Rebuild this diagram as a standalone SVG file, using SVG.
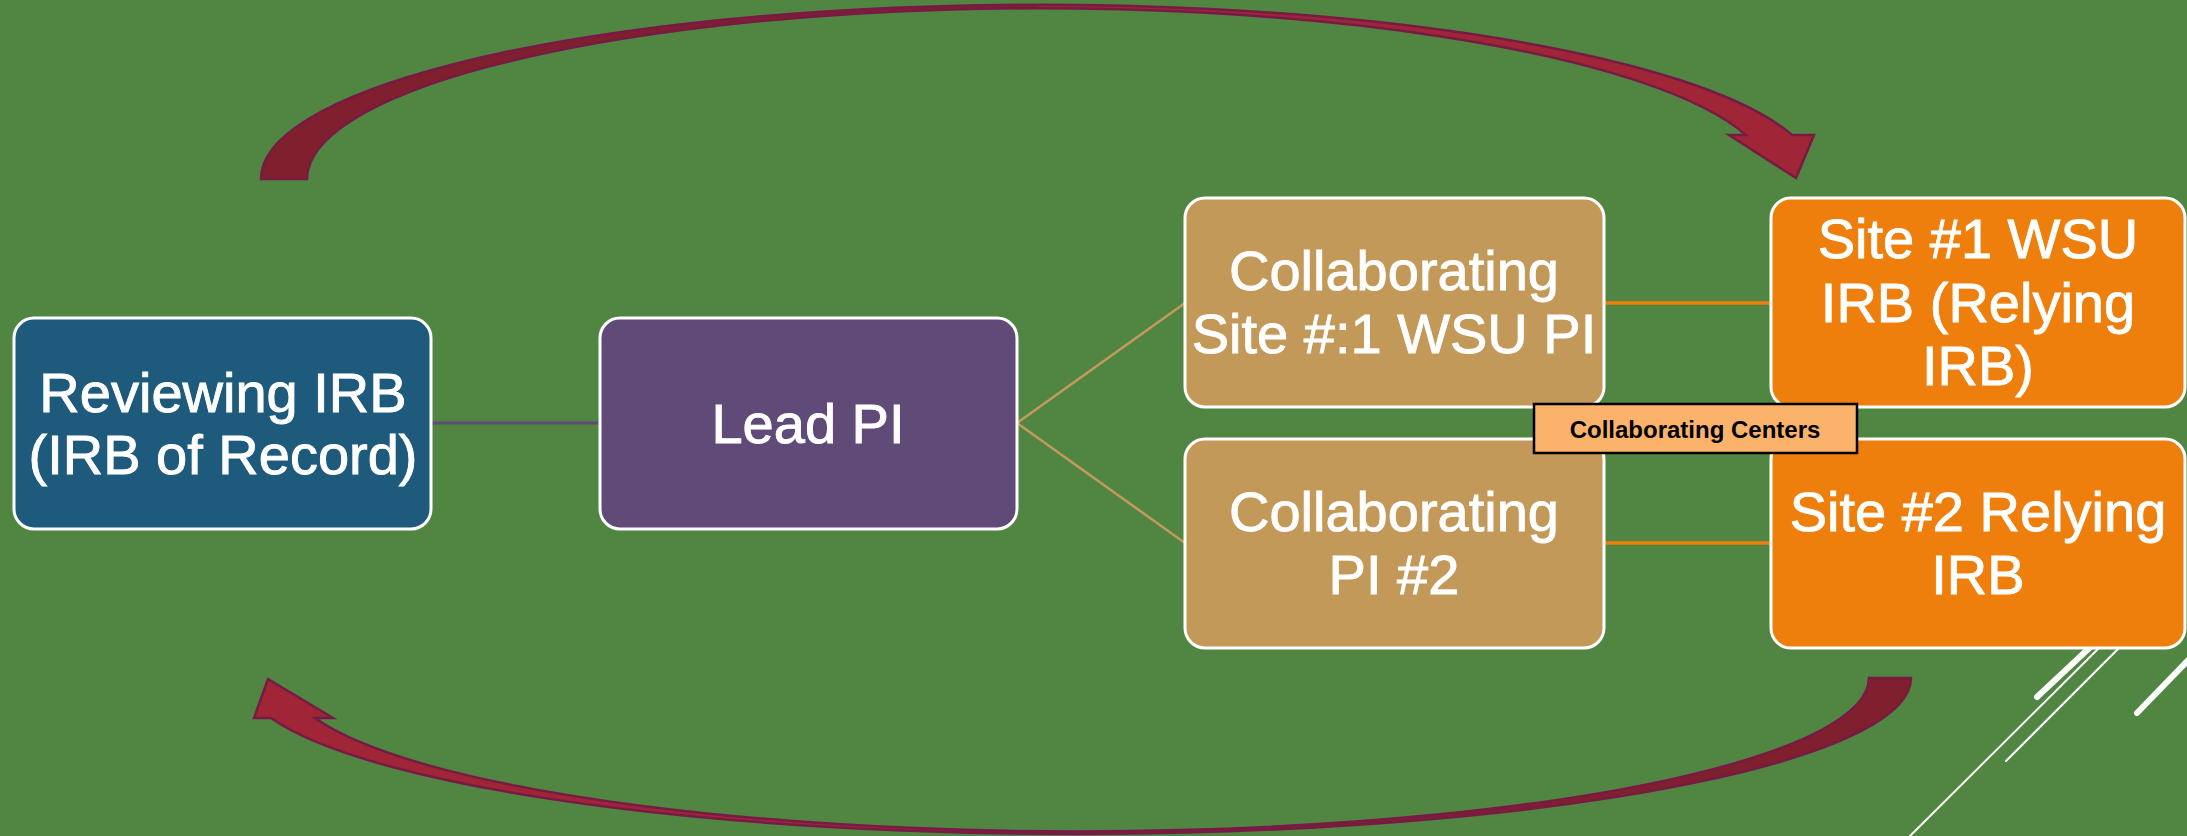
<svg xmlns="http://www.w3.org/2000/svg" width="2187" height="836" viewBox="0 0 2187 836">
<style>
.box{stroke:#ffffff;stroke-width:3}
.t{font-family:"Liberation Sans",Arial,sans-serif;font-size:56px;fill:#ffffff;stroke:#ffffff;stroke-width:0.9;text-anchor:middle}
.lbl{font-family:"Liberation Sans",Arial,sans-serif;font-size:24px;font-weight:bold;fill:#000000;text-anchor:middle}
.deco{stroke:#ffffff;stroke-linecap:round;fill:none}
.arr{stroke:#781a46;stroke-width:2.5;stroke-linejoin:miter}
</style>
<defs>
<linearGradient id="gTop" gradientUnits="userSpaceOnUse" x1="0" y1="0" x2="2187" y2="0">
<stop offset="0" stop-color="#801f2e"/>
<stop offset="0.475" stop-color="#801f2e"/>
<stop offset="0.475" stop-color="#a02637"/>
<stop offset="1" stop-color="#a02637"/>
</linearGradient>
<linearGradient id="gBot" gradientUnits="userSpaceOnUse" x1="0" y1="0" x2="2187" y2="0">
<stop offset="0" stop-color="#a02637"/>
<stop offset="0.49" stop-color="#a02637"/>
<stop offset="0.49" stop-color="#801f2e"/>
<stop offset="1" stop-color="#801f2e"/>
</linearGradient>
</defs>
<rect x="0" y="0" width="2187" height="836" fill="#508642"/>
<g id="decoration">
<line class="deco" x1="2037" y1="697" x2="2100" y2="638" stroke-width="6"/>
<line class="deco" x1="1910" y1="836" x2="2110" y2="637" stroke-width="2"/>
<line class="deco" x1="2006" y1="761" x2="2130" y2="637" stroke-width="2"/>
<line class="deco" x1="2137" y1="713" x2="2200" y2="648" stroke-width="6"/>
</g>
<g id="connectors">
<line x1="431" y1="423" x2="600" y2="423" stroke="#5f4a78" stroke-width="3"/>
<line x1="1017" y1="423" x2="1185" y2="303" stroke="#c49a5b" stroke-width="2.5"/>
<line x1="1017" y1="423" x2="1185" y2="543" stroke="#c49a5b" stroke-width="2.5"/>
<line x1="1604" y1="303" x2="1771" y2="303" stroke="#ef7f0c" stroke-width="3.5"/>
<line x1="1604" y1="543" x2="1771" y2="543" stroke="#ef7f0c" stroke-width="3.5"/>
</g>
<g id="arrow-top">
<path class="arr" fill="url(#gTop)" d="M 261 179 A 778 174 0 0 1 1792 135 L 1814 135 L 1796 178 L 1729 135 L 1746 135 A 732 171 0 0 0 307 179 Z"/>
</g>
<g id="arrow-bottom">
<path class="arr" fill="url(#gBot)" d="M 1911 678 A 834 156 0 0 1 271 718 L 254 718 L 268 679 L 333 718 L 315 718 A 791 154 0 0 0 1869 678 Z"/>
</g>
<g id="reviewing-irb">
<rect class="box" x="14" y="318" width="417" height="211" rx="20" fill="#1e5a7b"/>
<text class="t" x="223" y="412">Reviewing IRB</text>
<text class="t" x="223" y="474">(IRB of Record)</text>
</g>
<g id="lead-pi">
<rect class="box" x="600" y="318" width="417" height="211" rx="20" fill="#604a78"/>
<text class="t" x="808" y="443">Lead PI</text>
</g>
<g id="collab-site1">
<rect class="box" x="1185" y="198" width="419" height="209" rx="20" fill="#c3995a"/>
<text class="t" x="1394" y="290">Collaborating</text>
<text class="t" x="1394" y="353">Site #:1 WSU PI</text>
</g>
<g id="site1-irb">
<rect class="box" x="1771" y="198" width="414" height="209" rx="20" fill="#ef7f0c"/>
<text class="t" x="1978" y="258">Site #1 WSU</text>
<text class="t" x="1978" y="322">IRB (Relying</text>
<text class="t" x="1978" y="385">IRB)</text>
</g>
<g id="collab-pi2">
<rect class="box" x="1185" y="439" width="419" height="209" rx="20" fill="#c3995a"/>
<text class="t" x="1394" y="531">Collaborating</text>
<text class="t" x="1394" y="594">PI #2</text>
</g>
<g id="site2-irb">
<rect class="box" x="1771" y="439" width="414" height="209" rx="20" fill="#ef7f0c"/>
<text class="t" x="1978" y="531">Site #2 Relying</text>
<text class="t" x="1978" y="594">IRB</text>
</g>
<g id="collaborating-centers">
<rect x="1534" y="404" width="323" height="49" fill="#fbb26a" stroke="#000000" stroke-width="2.5"/>
<text class="lbl" x="1695" y="438">Collaborating Centers</text>
</g>
</svg>
